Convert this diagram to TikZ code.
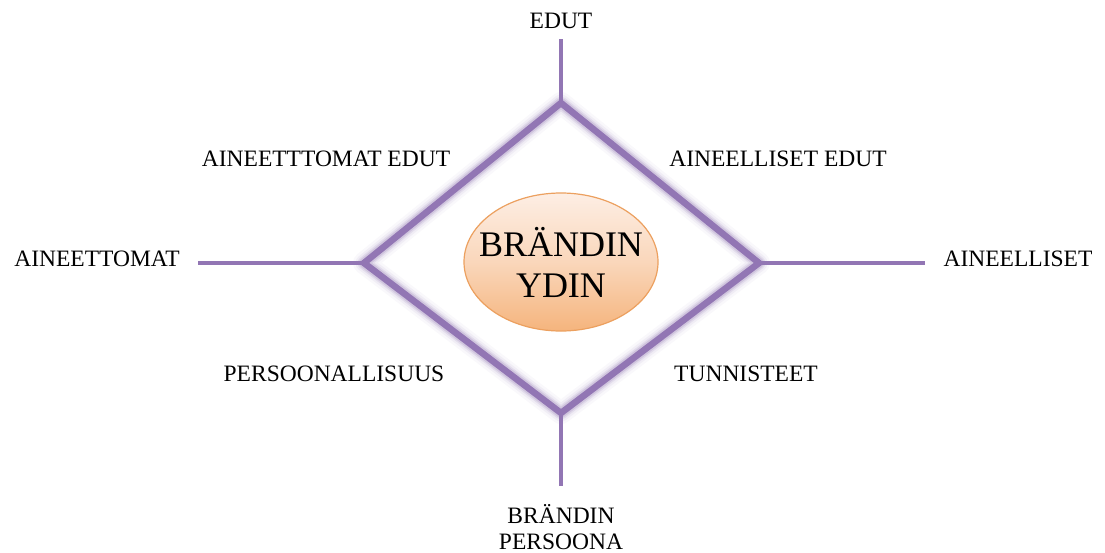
\documentclass[tikz,border=0pt]{standalone}
\usepackage{fontspec}
\setmainfont{Liberation Serif}
\usetikzlibrary{shapes.geometric}
\begin{document}
\begin{tikzpicture}[x=1pt,y=-1pt,
  lbl/.style={font=\fontsize{23.5}{28}\selectfont, inner sep=0pt, anchor=base},
  edge/.style={draw=purp, line width=6.5pt, line join=miter},
  glow/.style={draw=purp, line join=round},
  spoke/.style={draw=purp, line width=4.5pt},
]
\definecolor{purp}{RGB}{146,118,180}
\definecolor{peachtop}{RGB}{253,238,228}
\definecolor{peachbot}{RGB}{245,180,125}
\definecolor{peachline}{RGB}{236,160,95}
\useasboundingbox (0,0) rectangle (1105,552);
\fill[white] (0,0) rectangle (1105,552);

% diamond vertices
\coordinate (T) at (561,103);
\coordinate (R) at (759,263);
\coordinate (B) at (561,413);
\coordinate (L) at (364,263);
% spoke ends
\coordinate (Te) at (561,39);
\coordinate (Be) at (561,486);
\coordinate (Le) at (198,263);
\coordinate (Re) at (925,263);

% glow / soft shadow
\begin{scope}[shift={(1.5,2.5)}]
\draw[glow, line width=22pt, opacity=0.05] (T) -- (R) -- (B) -- (L) -- cycle;
\draw[glow, line width=17pt, opacity=0.08] (T) -- (R) -- (B) -- (L) -- cycle;
\draw[glow, line width=13pt, opacity=0.14] (T) -- (R) -- (B) -- (L) -- cycle;
\draw[glow, line width=10pt, opacity=0.22] (T) -- (R) -- (B) -- (L) -- cycle;
\end{scope}
% spokes
\draw[spoke] (T) -- (Te);
\draw[spoke] (B) -- (Be);
\draw[spoke] (L) -- (Le);
\draw[spoke] (R) -- (Re);
% diamond
\draw[edge] (T) -- (R) -- (B) -- (L) -- cycle;

% core
\node[ellipse, minimum width=194pt, minimum height=138pt, draw=peachline, line width=1.2pt,
  top color=peachtop, bottom color=peachbot, middle color=peachtop!60!peachbot,
  inner sep=0pt] (core) at (561,262) {};
\node[lbl, font=\fontsize{36}{43}\selectfont, align=center, anchor=center] (coretext) at (561,262)
  {BRÄNDIN\\[-2pt]YDIN};

% labels
\node[lbl] (edut) at (561,28) {EDUT};
\node[lbl] (aeedut) at (326,166) {AINEETTTOMAT EDUT};
\node[lbl] (aledut) at (778,166) {AINEELLISET EDUT};
\node[lbl] (aine) at (97,266) {AINEETTOMAT};
\node[lbl] (ainel) at (1018,266) {AINEELLISET};
\node[lbl] (pers) at (334,381) {PERSOONALLISUUS};
\node[lbl] (tunn) at (746,381) {TUNNISTEET};
\node[lbl] (bp1) at (561,523) {BRÄNDIN};
\node[lbl] (bp2) at (561,549) {PERSOONA};
\end{tikzpicture}
\end{document}
